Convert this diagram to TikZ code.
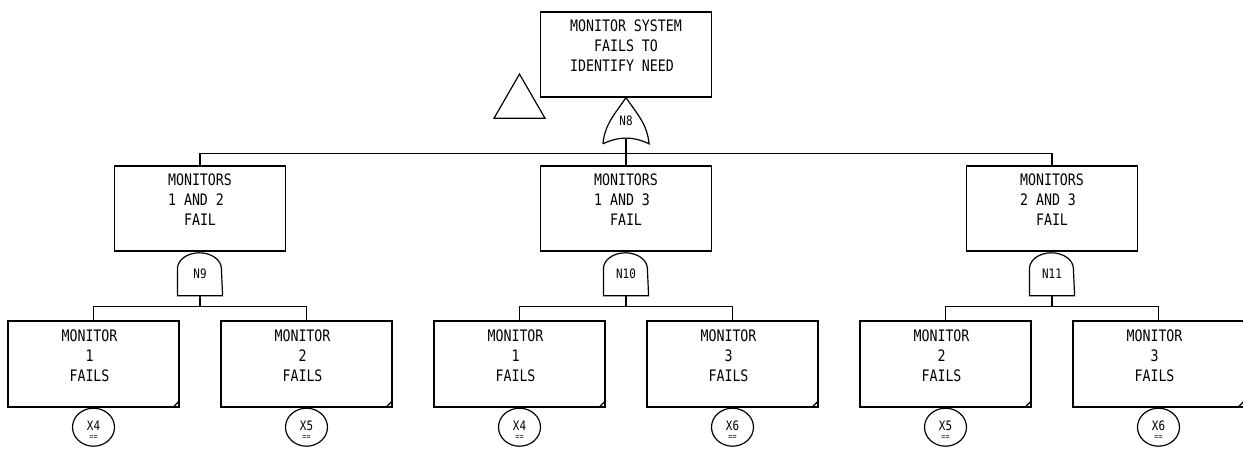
\documentclass[tikz,border=0pt]{standalone}
\usepackage{fontspec}
\setmonofont[FakeStretch=0.84]{DejaVu Sans Mono}
\usetikzlibrary{positioning,shapes.geometric}

\newcommand{\ftbig}{\fontsize{15.8}{20}\selectfont\ttfamily}
\newcommand{\ftgate}{\fontsize{13}{14}\selectfont\ttfamily}
\newcommand{\fteq}{\fontsize{8}{8}\selectfont\ttfamily}
\newcommand{\padch}{\hphantom{0}}

\begin{document}
\begin{tikzpicture}[
        x=1pt, y=1pt, line width=1.2pt, font=\ftbig,
        evbox/.style={draw, rectangle, inner sep=0pt, align=center,
            minimum width=171pt, minimum height=86pt, text height=52pt, text depth=18pt},
        gbox/.style={evbox, minimum height=85pt},
        gate/.style={inner sep=0pt, minimum width=44pt, minimum height=43pt, font=\ftgate},
        basic/.style={draw, ellipse, inner sep=0pt, minimum width=42pt, minimum height=38pt,
            font=\ftgate, align=center, text height=25.5pt, text depth=-25.5pt},
        xfer/.style={draw, regular polygon, regular polygon sides=3, inner sep=0pt,
            minimum size=58.8pt}]
        \useasboundingbox (0,0) rectangle (1243,456);
        % top event
        \node[gbox] (tp) at (626,401.5) {MONITOR SYSTEM\\FAILS TO\\IDENTIFY NEED\padch};
        \node[xfer] (tr) at (519.5,352.5) {};
        \node[gate, below=0pt of tp, minimum width=45pt, minimum height=45pt] (n8) {N8};
        % intermediate events
        \node[gbox] (m12) at (200,247.5) {MONITORS\\1 AND 2\padch\\FAIL};
        \node[gbox] (m13) at (626,247.5) {MONITORS\\1 AND 3\padch\\FAIL};
        \node[gbox] (m23) at (1052,247.5) {MONITORS\\2 AND 3\padch\\FAIL};
        \node[gate, below=0pt of m12] (n9) {N9};
        \node[gate, below=0pt of m13] (n10) {N10};
        \node[gate, below=0pt of m23] (n11) {N11};
        % basic events
        \node[evbox] (e1) at (93.5,92) {MONITOR\padch\\1\padch\\FAILS\padch};
        \node[evbox] (e2) at (306.5,92) {MONITOR\padch\\2\padch\\FAILS\padch};
        \node[evbox] (e3) at (519.5,92) {MONITOR\padch\\1\padch\\FAILS\padch};
        \node[evbox] (e4) at (732.5,92) {MONITOR\padch\\3\padch\\FAILS\padch};
        \node[evbox] (e5) at (945.5,92) {MONITOR\padch\\2\padch\\FAILS\padch};
        \node[evbox] (e6) at (1158.5,92) {MONITOR\padch\\3\padch\\FAILS\padch};
        \node[basic, below=0pt of e1] (x1) {X4\\[-5pt]{\fteq ==}};
        \node[basic, below=0pt of e2] (x2) {X5\\[-5pt]{\fteq ==}};
        \node[basic, below=0pt of e3] (x3) {X4\\[-5pt]{\fteq ==}};
        \node[basic, below=0pt of e4] (x4) {X6\\[-5pt]{\fteq ==}};
        \node[basic, below=0pt of e5] (x5) {X5\\[-5pt]{\fteq ==}};
        \node[basic, below=0pt of e6] (x6) {X6\\[-5pt]{\fteq ==}};
        % gate outlines
        \draw (n8.south west) to[out=84, in=236] (n8.north) to[out=-56, in=96] (n8.south east)
            to[out=155, in=25] (n8.south west);
        \foreach \g in {n9,n10,n11}
            \draw (\g.south west) -- ++(0,27) arc[start angle=180, end angle=0, x radius=22pt, y radius=16pt]
                -- (\g.south east) -- cycle;
        \foreach \b in {e1,e2,e3,e4,e5,e6}
            \draw ([xshift=-7pt]\b.south east) -- ([yshift=7pt]\b.south east);
        % connectors
        \coordinate[below=10pt of n8.south] (bus8);
        \draw ([yshift=5pt]n8.south) -- (bus8);
        \draw (m12.north) |- (bus8) -| (m23.north);
        \draw (bus8) -- (m13);
        \coordinate[below=11pt of n9.south] (bus9);
        \coordinate[below=11pt of n10.south] (bus10);
        \coordinate[below=11pt of n11.south] (bus11);
        \draw (n9) -- (bus9);
        \draw (n10) -- (bus10);
        \draw (n11) -- (bus11);
        \draw (e1.north) |- (bus9) -| (e2.north);
        \draw (e3.north) |- (bus10) -| (e4.north);
        \draw (e5.north) |- (bus11) -| (e6.north);
\end{tikzpicture}
\end{document}
